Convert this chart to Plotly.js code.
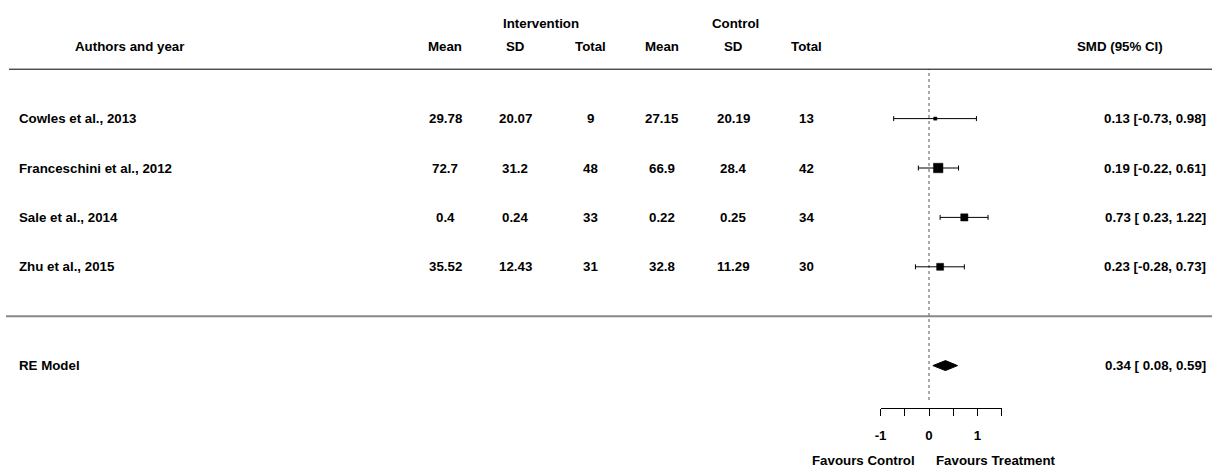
<!DOCTYPE html>
<html>
<head>
<meta charset="utf-8">
<script src="https://cdn.plot.ly/plotly-3.0.1.min.js"></script>
<style>html,body{margin:0;padding:0;background:#fff;}#chart{width:1212px;height:468px;}</style>
</head>
<body>
<div id="chart"></div>
<script>
// ---- data ----
const authors = ["Cowles et al., 2013", "Franceschini et al., 2012", "Sale et al., 2014", "Zhu et al., 2015"];
const intMean = [29.78, 72.7, 0.4, 35.52];
const intSD = [20.07, 31.2, 0.24, 12.43];
const intTotal = [9, 48, 33, 31];
const ctlMean = [27.15, 66.9, 0.22, 32.8];
const ctlSD = [20.19, 28.4, 0.25, 11.29];
const ctlTotal = [13, 42, 34, 30];
const smd = [0.13, 0.19, 0.73, 0.23];
const ciLow = [-0.73, -0.22, 0.23, -0.28];
const ciHigh = [0.98, 0.61, 1.22, 0.73];
const weights = [8.9, 37.7, 27.2, 26.2];
const reLabel = "RE Model";
const reEst = 0.34, reLow = 0.08, reHigh = 0.59;
const axisTicks = [-1, -0.5, 0, 0.5, 1, 1.5];
const axisTickText = ["-1", "", "0", "", "1", ""];
const headers = {authors: "Authors and year", sub: ["Mean", "SD", "Total"], groups: ["Intervention", "Control"], smd: "SMD (95% CI)"};
const favours = ["Favours Control", "Favours Treatment"];

// ---- layout helpers ----
const PX = 48.4;            // px per SMD unit
const X0 = 929;             // pixel of SMD 0
const ROWPX = 49.4;         // px per row
const ROW4 = 118.6;         // pixel y of row 4
const W = 1212, H = 468;
const xd = p => (p - X0) / PX;             // pixel x -> data x
const yd = p => 4 - (p - ROW4) / ROWPX;    // pixel y -> data y

const k = authors.length;
const rows = authors.map((_, i) => k - i);
const font = {family: "Liberation Sans, Arial, sans-serif", size: 13.3, color: "#000", weight: "bold"};
const colX = [445, 515, 590, 662, 733, 806].map(xd);
const fmt = v => v.toFixed(2);
const ciText = (e, l, h) => `${fmt(e)} [${l >= 0 ? " " : ""}${fmt(l)}, ${fmt(h)}]`;

const ann = [];
const add = (x, y, text, xanchor) => ann.push({x, y, text, xref: "x", yref: "y", showarrow: false, xanchor: xanchor || "center", yanchor: "middle", font});

// headers
add(xd(129), yd(46), headers.authors);
headers.sub.concat(headers.sub).forEach((t, i) => add(colX[i], yd(46), t));
add(xd(541), yd(23), headers.groups[0]);
add(xd(735), yd(23), headers.groups[1]);
add(xd(1120), yd(46), headers.smd);

// rows
const cols = [intMean, intSD, intTotal, ctlMean, ctlSD, ctlTotal];
authors.forEach((a, i) => {
  add(xd(17), rows[i], a, "left");
  cols.forEach((c, j) => add(colX[j], rows[i], String(c[i])));
  add(xd(1208), rows[i], ciText(smd[i], ciLow[i], ciHigh[i]), "right");
});
add(xd(17), -1, reLabel, "left");
add(xd(1208), -1, ciText(reEst, reLow, reHigh), "right");
add(xd(917), yd(460), favours[0], "right");
add(xd(934), yd(460), favours[1], "left");

// square sizes from weights
const wMin = Math.min(...weights), wMax = Math.max(...weights);
const sizes = weights.map(w => 9.5 * (0.5 + (w - wMin) / (wMax - wMin)) / 1.5);

const axLo = axisTicks[0], axHi = axisTicks[axisTicks.length - 1];

const traces = [
  {
    type: "scatter", mode: "markers", x: smd, y: rows, xaxis: "x", yaxis: "y",
    marker: {symbol: "square", size: sizes, color: "#000", opacity: 1, line: {width: 0.5, color: "#000"}},
    error_x: {type: "data", symmetric: false, array: ciHigh.map((h, i) => h - smd[i]), arrayminus: smd.map((s, i) => s - ciLow[i]), color: "#000", thickness: 1, width: 2.5},
    hoverinfo: "skip", showlegend: false
  },
  {
    type: "scatter", mode: "lines", fill: "toself", fillcolor: "#000",
    x: [reLow, reEst, reHigh, reEst, reLow],
    y: [-1, -1 + 5 / ROWPX, -1, -1 - 5 / ROWPX, -1],
    line: {color: "#000", width: 1}, hoverinfo: "skip", showlegend: false
  },
  {type: "scatter", mode: "markers", x: [axLo], y: [-3], xaxis: "x2", yaxis: "y", marker: {opacity: 0}, hoverinfo: "skip", showlegend: false}
];

const layout = {
  width: W, height: H, margin: {l: 0, r: 0, t: 0, b: 0},
  paper_bgcolor: "#fff", plot_bgcolor: "rgba(0,0,0,0)",
  xaxis: {range: [xd(0), xd(W)], visible: false, fixedrange: true, domain: [0, 1]},
  xaxis2: {
    range: [axLo, axHi],
    domain: [(X0 + axLo * PX) / W, (X0 + axHi * PX) / W],
    anchor: "free", position: 1 - 408 / H,
    showline: true, linecolor: "#000", linewidth: 1,
    ticks: "outside", ticklen: 7, tickcolor: "#000", tickwidth: 1,
    ticklabelstandoff: 8,
    tickvals: axisTicks, ticktext: axisTickText, tickfont: font,
    showgrid: false, zeroline: false, fixedrange: true
  },
  yaxis: {range: [yd(H), yd(0)], visible: false, fixedrange: true},
  shapes: [
    {type: "line", xref: "paper", yref: "y", x0: 9 / W, x1: 1, y0: 5, y1: 5, line: {color: "#000", width: 1}},
    {type: "line", xref: "paper", yref: "y", x0: 6 / W, x1: 1, y0: 0, y1: 0, line: {color: "#888", width: 2}},
    {type: "line", xref: "x", yref: "y", x0: 0, x1: 0, y0: yd(400), y1: 5, line: {color: "#555", width: 1, dash: "dot"}, layer: "below"}
  ],
  annotations: ann,
  showlegend: false
};
Plotly.newPlot("chart", traces, layout, {displayModeBar: false, staticPlot: true});
</script>
</body>
</html>
